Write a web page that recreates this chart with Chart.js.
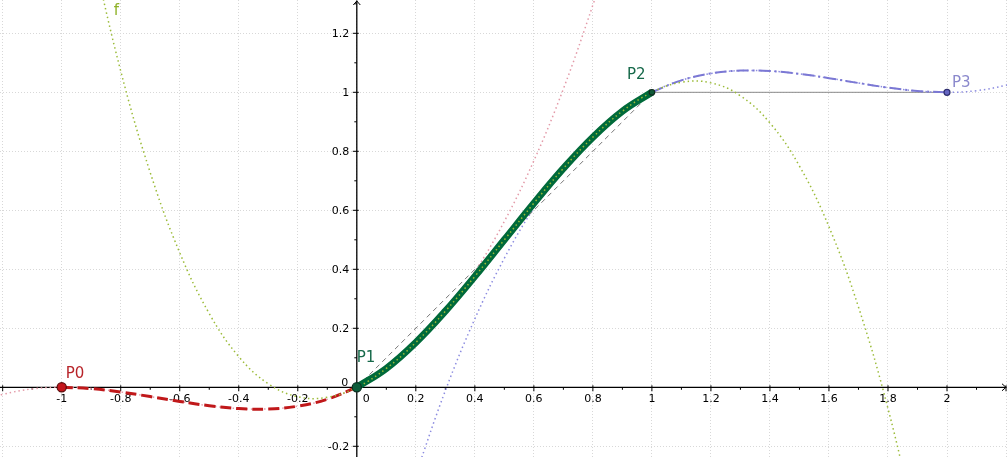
<!DOCTYPE html>
<html>
<head>
<meta charset="utf-8">
<script src="https://cdn.jsdelivr.net/npm/chart.js@4.4.1/dist/chart.umd.min.js"></script>
<style>
  html, body { margin: 0; padding: 0; background: #ffffff; }
  #wrap { width: 1007px; height: 457px; position: relative; }
</style>
</head>
<body>
<div id="wrap"><canvas id="c"></canvas></div>
<script>
// ---- Data ----
// Control points
const pointNames = ['P0', 'P1', 'P2', 'P3'];
const pointX = [-1, 0, 1, 2];
const pointY = [0, 0, 1, 1];

// Red piece (P0 -> P1), dashed
const redX = [-1, -0.9, -0.8, -0.7, -0.6, -0.5, -0.4, -0.3, -0.2, -0.1, 0];
const redY = [0, -0.0045, -0.016, -0.0315, -0.048, -0.0625, -0.072, -0.0735, -0.064, -0.0405, 0];

// Red cubic continued (pink dotted)
const pinkX = [-1.25, -1.2, -1.1, -1, -0.9, -0.8, -0.7, -0.6, -0.5, -0.4, -0.3, -0.2, -0.1, 0, 0.1, 0.2, 0.3, 0.4, 0.5, 0.6, 0.7, 0.8, 0.85];
const pinkY = [-0.039, -0.024, -0.0055, 0, -0.0045, -0.016, -0.0315, -0.048, -0.0625, -0.072, -0.0735, -0.064, -0.0405, 0, 0.0605, 0.144, 0.2535, 0.392, 0.5625, 0.768, 1.0115, 1.296, 1.4546];

// Green piece (P1 -> P2), thick
const greenX = [0, 0.1, 0.2, 0.3, 0.4, 0.5, 0.6, 0.7, 0.8, 0.9, 1];
const greenY = [0, 0.064, 0.152, 0.258, 0.376, 0.5, 0.624, 0.742, 0.848, 0.936, 1];

// f (olive dotted)
const fX = [-0.9, -0.8, -0.7, -0.6, -0.5, -0.4, -0.3, -0.2, -0.1, 0, 0.1, 0.2, 0.3, 0.4, 0.5, 0.6, 0.7, 0.8, 0.9, 1, 1.1, 1.2, 1.3, 1.4, 1.5, 1.6, 1.7, 1.8, 1.9];
const fY = [1.494, 1.072, 0.728, 0.456, 0.25, 0.104, 0.012, -0.032, -0.034, 0, 0.064, 0.152, 0.258, 0.376, 0.5, 0.624, 0.742, 0.848, 0.936, 1, 1.034, 1.032, 0.988, 0.896, 0.75, 0.544, 0.272, -0.072, -0.494];

// Blue piece (P2 -> P3), dash-dot
const blueX = [1, 1.1, 1.2, 1.3, 1.4, 1.5, 1.6, 1.7, 1.8, 1.9, 2];
const blueY = [1, 1.0405, 1.064, 1.0735, 1.072, 1.0625, 1.048, 1.0315, 1.016, 1.0045, 1];

// Blue cubic continued (dotted)
const blueExtX = [0.2, 0.3, 0.4, 0.5, 0.6, 0.7, 0.8, 0.9, 1, 1.1, 1.2, 1.3, 1.4, 1.5, 1.6, 1.7, 1.8, 1.9, 2, 2.1, 2.2, 2.25];
const blueExtY = [-0.296, -0.0115, 0.232, 0.4375, 0.608, 0.7465, 0.856, 0.9395, 1, 1.0405, 1.064, 1.0735, 1.072, 1.0625, 1.048, 1.0315, 1.016, 1.0045, 1, 1.0055, 1.024, 1.039];

// Control polygon segments
const chordDashedX = [0, 1];
const chordDashedY = [0, 1];
const chordSolidX = [1, 2];
const chordSolidY = [1, 1];

// Axes
const xMin = -1.2091, xMax = 2.2033;
const yMin = -0.2363, yMax = 1.3129;
const xGrid = [-1.2, -1, -0.8, -0.6, -0.4, -0.2, 0, 0.2, 0.4, 0.6, 0.8, 1, 1.2, 1.4, 1.6, 1.8, 2, 2.2];
const yGrid = [-0.2, 0, 0.2, 0.4, 0.6, 0.8, 1, 1.2];
const xTickValues = [-1, -0.8, -0.6, -0.4, -0.2, 0, 0.2, 0.4, 0.6, 0.8, 1, 1.2, 1.4, 1.6, 1.8, 2];
const xTickLabels = ['-1', '-0.8', '-0.6', '-0.4', '-0.2', '0', '0.2', '0.4', '0.6', '0.8', '1', '1.2', '1.4', '1.6', '1.8', '2'];
const yTickValues = [-0.2, 0, 0.2, 0.4, 0.6, 0.8, 1, 1.2];
const yTickLabels = ['-0.2', '0', '0.2', '0.4', '0.6', '0.8', '1', '1.2'];
const xMinorTicks = [-1.1, -0.9, -0.7, -0.5, -0.3, -0.1, 0.1, 0.3, 0.5, 0.7, 0.9, 1.1, 1.3, 1.5, 1.7, 1.9, 2.1];
const yMinorTicks = [-0.1, 0.1, 0.3, 0.5, 0.7, 0.9, 1.1, 1.3];
const xMajorTicks = [-1.2, -1, -0.8, -0.6, -0.4, -0.2, 0.2, 0.4, 0.6, 0.8, 1, 1.2, 1.4, 1.6, 1.8, 2, 2.2];
const yMajorTicks = [-0.2, 0.2, 0.4, 0.6, 0.8, 1, 1.2];

// Text labels
const fLabel = { text: 'f', x: -0.824, y: 1.262 };

// ---- build ----
const pts = (xs, ys) => xs.map((v, i) => ({ x: v, y: ys[i] }));
const FONT = '"DejaVu Sans", "Liberation Sans", sans-serif';

const axesPlugin = {
  id: 'geoAxes',
  beforeDatasetsDraw(chart) {
    const { ctx, chartArea: a } = chart;
    const sx = chart.scales.x, sy = chart.scales.y;
    const X0 = sx.getPixelForValue(0), Y0 = sy.getPixelForValue(0);
    ctx.save();
    ctx.strokeStyle = '#000';
    ctx.lineWidth = 1.3;
    ctx.beginPath();
    ctx.moveTo(a.left, Y0); ctx.lineTo(a.right - 0.5, Y0);
    ctx.moveTo(X0, a.bottom); ctx.lineTo(X0, a.top + 0.5);
    ctx.stroke();
    ctx.lineWidth = 1;
    ctx.beginPath();
    ctx.moveTo(a.right - 5, Y0 - 3.5); ctx.lineTo(a.right - 1, Y0); ctx.lineTo(a.right - 5, Y0 + 3.5);
    ctx.moveTo(X0 - 3.5, a.top + 5); ctx.lineTo(X0, a.top + 1); ctx.lineTo(X0 + 3.5, a.top + 5);
    ctx.stroke();
    // tick marks
    ctx.beginPath();
    xMajorTicks.forEach(v => { const p = sx.getPixelForValue(v); ctx.moveTo(p, Y0 - 2); ctx.lineTo(p, Y0 + 4); });
    xMinorTicks.forEach(v => { const p = sx.getPixelForValue(v); ctx.moveTo(p, Y0); ctx.lineTo(p, Y0 + 2.5); });
    yMajorTicks.forEach(v => { const p = sy.getPixelForValue(v); ctx.moveTo(X0 - 4, p); ctx.lineTo(X0 + 2, p); });
    yMinorTicks.forEach(v => { const p = sy.getPixelForValue(v); ctx.moveTo(X0 - 2.5, p); ctx.lineTo(X0, p); });
    ctx.stroke();
    // tick labels
    ctx.fillStyle = '#000';
    ctx.font = '11px ' + FONT;
    ctx.textBaseline = 'alphabetic';
    xTickValues.forEach((v, i) => {
      const p = sx.getPixelForValue(v);
      if (v === 0) { ctx.textAlign = 'left'; ctx.fillText(xTickLabels[i], p + 6, Y0 + 14.7); }
      else { ctx.textAlign = 'center'; ctx.fillText(xTickLabels[i], p, Y0 + 14.7); }
    });
    ctx.textAlign = 'right';
    yTickValues.forEach((v, i) => {
      const p = sy.getPixelForValue(v);
      if (v === 0) ctx.fillText(yTickLabels[i], X0 - 8.5, Y0 - 1.3);
      else ctx.fillText(yTickLabels[i], X0 - 7.5, p + 4);
    });
    ctx.restore();
  },
  afterDatasetsDraw(chart) {
    const { ctx } = chart;
    const sx = chart.scales.x, sy = chart.scales.y;
    const styles = [
      { color: '#b8252a', dx: 4, dy: -9 },
      { color: '#16694a', dx: 0, dy: -25 },
      { color: '#16694a', dx: -25, dy: -13 },
      { color: '#8a88cc', dx: 5, dy: -5 }
    ];
    ctx.save();
    ctx.font = '15px ' + FONT;
    ctx.textAlign = 'left';
    ctx.textBaseline = 'alphabetic';
    pointNames.forEach((n, i) => {
      const st = styles[i];
      ctx.fillStyle = st.color;
      ctx.fillText(n, sx.getPixelForValue(pointX[i]) + st.dx, sy.getPixelForValue(pointY[i]) + st.dy);
    });
    ctx.fillStyle = '#8fb227';
    ctx.fillText(fLabel.text, sx.getPixelForValue(fLabel.x), sy.getPixelForValue(fLabel.y));
    ctx.restore();
  }
};

const dotted = [1.5, 3];
const lineDefaults = { showLine: true, pointRadius: 0, pointHoverRadius: 0, fill: false, tension: 0.4 };

new Chart(document.getElementById('c'), {
  type: 'scatter',
  data: {
    datasets: [
      Object.assign({}, lineDefaults, { label: 'P1P2', data: pts(chordDashedX, chordDashedY), borderColor: '#777777', borderWidth: 1, borderDash: [5, 4], tension: 0, order: 20 }),
      Object.assign({}, lineDefaults, { label: 'P2P3', data: pts(chordSolidX, chordSolidY), borderColor: '#8a8a8a', borderWidth: 1, tension: 0, order: 20 }),
      Object.assign({}, lineDefaults, { label: 'red ext', data: pts(pinkX, pinkY), borderColor: '#e39aa8', borderWidth: 1.5, borderDash: dotted, order: 15 }),
      Object.assign({}, lineDefaults, { label: 'blue ext', data: pts(blueExtX, blueExtY), borderColor: '#8c8ce0', borderWidth: 1.5, borderDash: dotted, order: 15 }),
      Object.assign({}, lineDefaults, { label: 'red', data: pts(redX, redY), borderColor: '#c0181a', borderWidth: 3, borderDash: [11, 5], order: 10 }),
      Object.assign({}, lineDefaults, { label: 'blue', data: pts(blueX, blueY), borderColor: '#7b78d4', borderWidth: 2, borderDash: [12, 4, 2, 4], order: 10 }),
      Object.assign({}, lineDefaults, { label: 'green', data: pts(greenX, greenY), borderColor: '#006a3a', borderWidth: 7, order: 8 }),
      Object.assign({}, lineDefaults, { label: 'f', data: pts(fX, fY), borderColor: '#9bbb38', borderWidth: 1.5, borderDash: dotted, order: 5 }),
      {
        label: 'points', data: pts(pointX, pointY), showLine: false,
        pointRadius: [4.6, 4.6, 2.8, 3],
        pointBackgroundColor: ['#c4161c', '#0d5c3a', '#0f5a38', '#6666c2'],
        pointBorderColor: ['#5c0a0a', '#0a3020', '#102a1e', '#303070'],
        pointBorderWidth: 1.2,
        order: 1
      }
    ]
  },
  options: {
    responsive: true,
    maintainAspectRatio: false,
    animation: false,
    events: [],
    layout: { padding: 0, autoPadding: false },
    plugins: { legend: { display: false }, tooltip: { enabled: false } },
    scales: {
      x: {
        type: 'linear', min: xMin, max: xMax,
        afterBuildTicks: (s) => { s.ticks = xGrid.map(v => ({ value: v })); },
        ticks: { display: false },
        grid: { color: '#d8d8d8', lineWidth: 1, drawTicks: false },
        border: { display: false, dash: [1, 2] }
      },
      y: {
        type: 'linear', min: yMin, max: yMax,
        afterBuildTicks: (s) => { s.ticks = yGrid.map(v => ({ value: v })); },
        ticks: { display: false },
        grid: { color: '#d8d8d8', lineWidth: 1, drawTicks: false },
        border: { display: false, dash: [1, 2] }
      }
    }
  },
  plugins: [axesPlugin]
});
</script>
</body>
</html>
